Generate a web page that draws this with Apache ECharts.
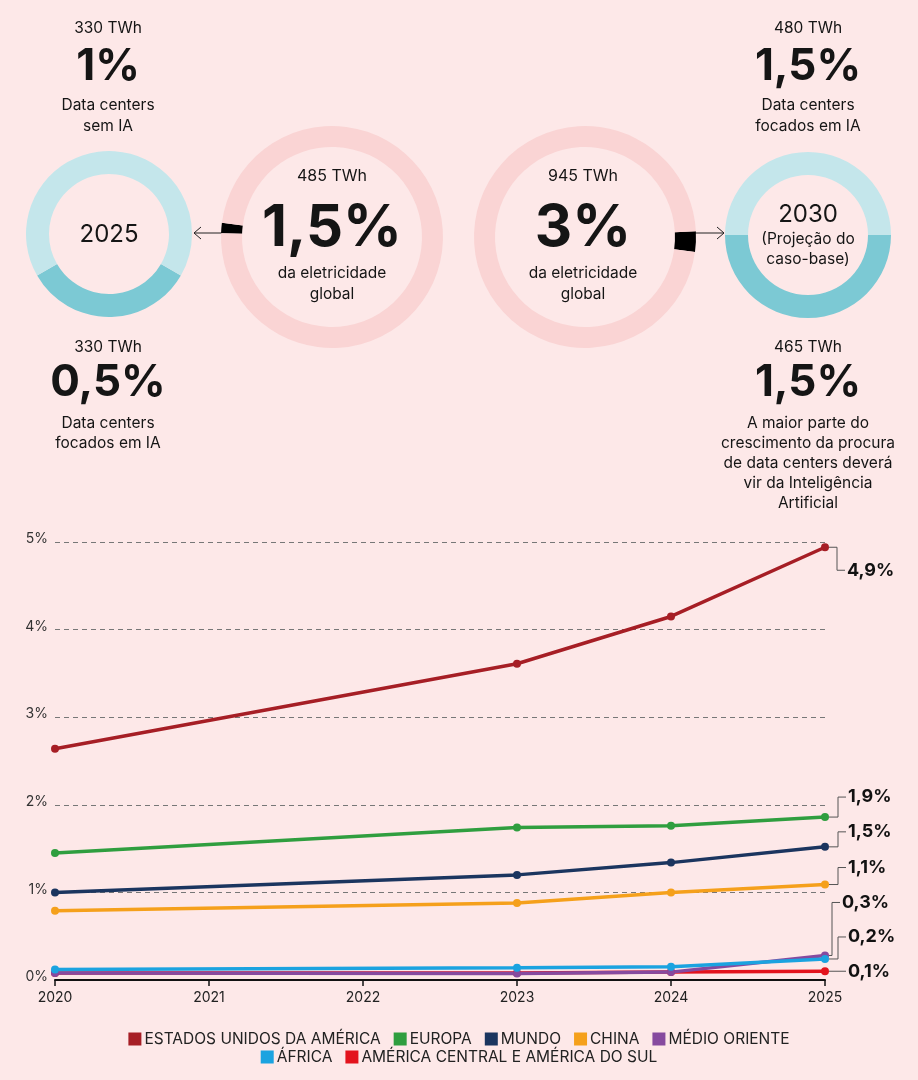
<!DOCTYPE html>
<html>
<head>
<meta charset="utf-8">
<script src="https://cdn.jsdelivr.net/npm/echarts@6/dist/echarts.min.js"></script>
<style>
html,body{margin:0;padding:0;background:#fde8e8;}
#chart{width:918px;height:1080px;}
</style>
</head>
<body>
<div id="chart"></div>
<script>
// ---- Data ----
const years = ['2020', '2021', '2022', '2023', '2024', '2025'];
const usa        = [2.64, null, null, 3.61, 4.15, 4.94];
const europe     = [1.45, null, null, 1.74, 1.76, 1.86];
const world      = [1.00, null, null, 1.20, 1.34, 1.52];
const china      = [0.79, null, null, 0.88, 1.00, 1.09];
const middleEast = [0.08, null, null, 0.075, 0.09, 0.28];
const africa     = [0.12, null, null, 0.14, 0.15, 0.24];
const latam      = [0.08, null, null, 0.08, 0.09, 0.10];
const endLabels  = ['4,9%', '1,9%', '1,5%', '1,1%', '0,3%', '0,2%', '0,1%'];
const yTicks = [0, 1, 2, 3, 4, 5];

// Donut shares (% of global electricity)
const share2025 = [
  { name: 'Data centers focados em IA', value: 0.5 },
  { name: 'Data centers sem IA', value: 1 }
];
const share2030 = [
  { name: 'Data centers focados em IA', value: 1.5 },
  { name: 'Data centers sem IA', value: 1.5 }
];
const global2025 = [
  { name: 'Data centers', value: 1.5 },
  { name: 'Resto', value: 98.5 }
];
const global2030 = [
  { name: 'Data centers', value: 3 },
  { name: 'Resto', value: 97 }
];

// ---- Styles ----
const FONT = 'Inter, "Noto Sans", sans-serif';
const names = ['ESTADOS UNIDOS DA AMÉRICA', 'EUROPA', 'MUNDO', 'CHINA', 'MÉDIO ORIENTE', 'ÁFRICA', 'AMÉRICA CENTRAL E AMÉRICA DO SUL'];
const colors = ['#a61e25', '#2f9e3f', '#1b355f', '#f5a01b', '#864a9f', '#1ba3e0', '#e3131d'];
const values = [usa, europe, world, china, middleEast, africa, latam];
// label placement config (pixel offsets of end labels relative to last point)
const labelDy = [23, -20, -15, -17, -53, -22, 0];
const elbowDx = [12, 13, 13, 13, 7, 13, 13];

const chart = echarts.init(document.getElementById('chart'), null, { renderer: 'canvas' });

function donut(center, radius, startAngle, data, cols) {
  return {
    type: 'pie', center: center, radius: radius, startAngle: startAngle, clockwise: true,
    silent: true, label: { show: false }, labelLine: { show: false },
    emphasis: { disabled: true }, animation: false,
    itemStyle: { borderWidth: 0 },
    data: data.map((d, i) => ({ name: d.name, value: d.value, itemStyle: { color: cols[i] } }))
  };
}

const lineSeries = names.map((n, i) => ({
  name: n, type: 'line', data: values[i], connectNulls: true,
  symbol: 'circle', symbolSize: 8, showSymbol: true,
  lineStyle: { width: 3.5, color: colors[i] }, itemStyle: { color: colors[i] },
  emphasis: { disabled: true }, animation: false, z: 3
}));
// red (América Central) drawn beneath others
const orderedLines = [lineSeries[6], lineSeries[0], lineSeries[1], lineSeries[2], lineSeries[3], lineSeries[4], lineSeries[5]];

const labelSeries = {
  type: 'custom', silent: true, animation: false, z: 5,
  data: values.map((v, i) => [5, v[5], i]),
  renderItem: function (params, api) {
    const i = api.value(2);
    const pt = api.coord([api.value(0), api.value(1)]);
    const dy = labelDy[i], ex = elbowDx[i];
    const ly = pt[1] + dy;
    return {
      type: 'group',
      children: [
        { type: 'polyline', shape: { points: [[pt[0] + 4, pt[1]], [pt[0] + ex, pt[1]], [pt[0] + ex, ly], [pt[0] + ex + 8, ly]] },
          style: { stroke: '#555', lineWidth: 1, fill: null } },
        { type: 'text', x: pt[0] + ex + 10, y: ly,
          style: { text: endLabels[i], fill: '#111', font: 'bold 18px ' + FONT, textVerticalAlign: 'middle', textAlign: 'left' } }
      ]
    };
  }
};

function txt(x, y, text, size, weight) {
  return { type: 'text', x: x, y: y, silent: true,
    style: { text: text, fill: '#151515', font: (weight || 'normal') + ' ' + size + 'px ' + FONT, textAlign: 'center', textVerticalAlign: 'middle' } };
}

const graphics = [
  // top-left
  txt(108, 28, '330 TWh', 15.5), txt(108, 67, '1%', 44, 'bold'), txt(108, 105, 'Data centers', 15.5), txt(108, 126, 'sem IA', 15.5),
  txt(109, 235, '2025', 24),
  txt(108, 347, '330 TWh', 15.5), txt(108, 383, '0,5%', 44, 'bold'), txt(108, 423, 'Data centers', 15.5), txt(108, 443, 'focados em IA', 15.5),
  // left pink
  txt(332, 176, '485 TWh', 16), txt(332, 229, '1,5%', 58, 'bold'), txt(332, 273, 'da eletricidade', 15.5), txt(332, 294, 'global', 15.5),
  // right pink
  txt(583, 176, '945 TWh', 16), txt(583, 229, '3%', 58, 'bold'), txt(583, 273, 'da eletricidade', 15.5), txt(583, 294, 'global', 15.5),
  // right blue
  txt(808, 215, '2030', 24), txt(808, 239, '(Projeção do', 15.5), txt(808, 259, 'caso-base)', 15.5),
  // top-right
  txt(808, 28, '480 TWh', 15.5), txt(808, 67, '1,5%', 44, 'bold'), txt(808, 105, 'Data centers', 15.5), txt(808, 126, 'focados em IA', 15.5),
  txt(808, 347, '465 TWh', 15.5), txt(808, 383, '1,5%', 44, 'bold'),
  txt(808, 423, 'A maior parte do', 15.5), txt(808, 443, 'crescimento da procura', 15.5), txt(808, 463, 'de data centers deverá', 15.5),
  txt(808, 483, 'vir da Inteligência', 15.5), txt(808, 503, 'Artificial', 15.5),
  // arrows
  { type: 'polyline', silent: true, shape: { points: [[222, 233], [194, 233]] }, style: { stroke: '#222', lineWidth: 1 } },
  { type: 'polyline', silent: true, shape: { points: [[201, 227], [194, 233], [201, 239]] }, style: { stroke: '#222', lineWidth: 1, fill: null } },
  { type: 'polyline', silent: true, shape: { points: [[695, 233], [724, 233]] }, style: { stroke: '#222', lineWidth: 1 } },
  { type: 'polyline', silent: true, shape: { points: [[717, 227], [724, 233], [717, 239]] }, style: { stroke: '#222', lineWidth: 1, fill: null } }
];

const option = {
  backgroundColor: '#fde8e8',
  animation: false,
  textStyle: { fontFamily: FONT },
  grid: { left: 55, right: 93, top: 542, bottom: 100, containLabel: false },
  legend: [
    { data: names.slice(0, 5), top: 1026, left: 'center', itemWidth: 13, itemHeight: 13, itemGap: 13, icon: 'rect',
      textStyle: { fontSize: 15.5, color: '#222', fontFamily: FONT, padding: [0, 0, 0, -2] }, selectedMode: false },
    { data: names.slice(5), top: 1044, left: 'center', itemWidth: 13, itemHeight: 13, itemGap: 13, icon: 'rect',
      textStyle: { fontSize: 15.5, color: '#222', fontFamily: FONT, padding: [0, 0, 0, -2] }, selectedMode: false }
  ],
  xAxis: {
    type: 'category', data: years, boundaryGap: false,
    axisLine: { lineStyle: { color: '#111', width: 2 } },
    axisTick: { show: true, length: 6, lineStyle: { color: '#111', width: 1.5 }, alignWithLabel: true },
    axisLabel: { fontSize: 14, color: '#222', margin: 11 },
    splitLine: { show: false }
  },
  yAxis: {
    type: 'value', min: yTicks[0], max: yTicks[yTicks.length - 1], interval: 1,
    axisLine: { show: false }, axisTick: { show: false },
    axisLabel: { formatter: '{value}%', fontSize: 14, color: '#333', margin: 7, verticalAlign: 'bottom', padding: [0, 0, -4, 0] },
    splitLine: { lineStyle: { color: '#777', type: [5, 4], width: 1 } }
  },
  graphic: graphics,
  series: [
    donut([109, 234], [60, 83], -30, share2025, ['#7cc9d4', '#c4e6eb']),
    donut([332, 237], [90, 111], 178, global2025, ['#000000', '#fad4d4']),
    donut([585, 237], [90, 111], 3, global2030, ['#000000', '#fad4d4']),
    donut([808, 235], [60, 83], 0, share2030, ['#7cc9d4', '#c4e6eb'])
  ].concat(orderedLines).concat([labelSeries])
};

chart.setOption(option);
</script>
</body>
</html>
